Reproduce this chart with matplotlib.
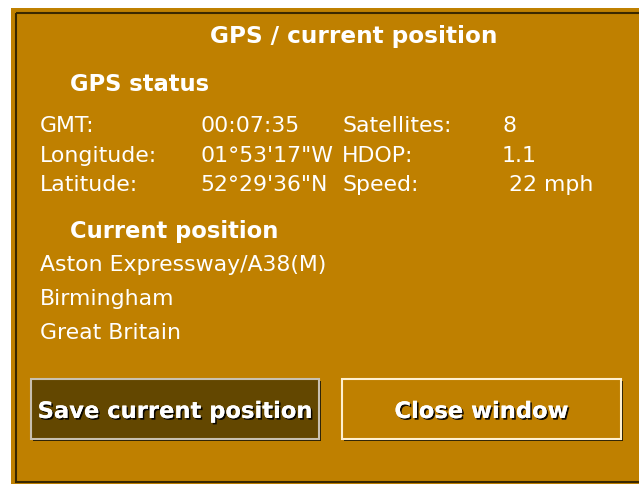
import matplotlib
matplotlib.use("Agg")
import matplotlib.pyplot as plt
from matplotlib.patches import Rectangle
import matplotlib.patheffects as pe

title = "GPS / current position"
section_status = "GPS status"
labels_left = ["GMT:", "Longitude:", "Latitude:"]
values_left = ["00:07:35", "01°53'17\"W", "52°29'36\"N"]
labels_right = ["Satellites:", "HDOP:", "Speed:"]
values_right = ["8", "1.1", " 22 mph"]
section_pos = "Current position"
address_lines = ["Aston Expressway/A38(M)", "Birmingham", "Great Britain"]
buttons = ["Save current position", "Close window"]

BG = "#BF8000"
W, H = 639, 484
fig = plt.figure(figsize=(W / 100, H / 100), dpi=100)
fig.patch.set_facecolor("white")
ax = fig.add_axes([0, 0, 1, 1])
ax.set_xlim(0, W)
ax.set_ylim(H, 0)
ax.axis("off")

# window
ax.add_patch(Rectangle((11, 8), W - 11 + 5, H - 8 + 5, facecolor=BG, edgecolor="none"))
ax.add_patch(Rectangle((15.5, 12.5), W, 469.5, facecolor="none", edgecolor="#3A2800", lw=1.5))

FS = 15.8
FSB = 16.3
fam = "DejaVu Sans"
txt = dict(color="white", family=fam, fontsize=FS, va="baseline")
bold = dict(color="white", family=fam, fontsize=FSB, fontweight="bold", va="baseline")

ax.text(354, 43, title, ha="center", **{**bold, "fontsize": 16.7})
ax.text(70, 91, section_status, ha="left", **bold)

rows_y = [132, 162, 191]
for i, y in enumerate(rows_y):
    ax.text(40, y, labels_left[i], ha="left", **txt)
    ax.text(200, y, values_left[i], ha="left", **txt)
    ax.text(342, y, labels_right[i], ha="left", **txt)
    ax.text(502, y, values_right[i], ha="left", **txt)

ax.text(70, 238, section_pos, ha="left", **bold)
for y, line in zip([271, 305, 339], address_lines):
    ax.text(40, y, line, ha="left", **txt)

# buttons
def button(x0, x1, face, edge, label):
    y0, y1 = 379, 439
    ax.add_patch(Rectangle((x0 + 2, y0 + 2), x1 - x0, y1 - y0, facecolor="#2A1E00", edgecolor="none"))
    ax.add_patch(Rectangle((x0, y0), x1 - x0, y1 - y0, facecolor=face, edgecolor=edge, lw=1.5))
    ax.text((x0 + x1) / 2, 418, label, ha="center",
            path_effects=[pe.withSimplePatchShadow(offset=(1.2, -1.2), shadow_rgbFace="black", alpha=0.9), pe.Normal()],
            **bold)

button(31, 319, "#634700", "#C8C0B0", buttons[0])
button(342, 621, BG, "#FFF0D0", buttons[1])

fig.savefig("out.png", dpi=100, facecolor=fig.get_facecolor())
